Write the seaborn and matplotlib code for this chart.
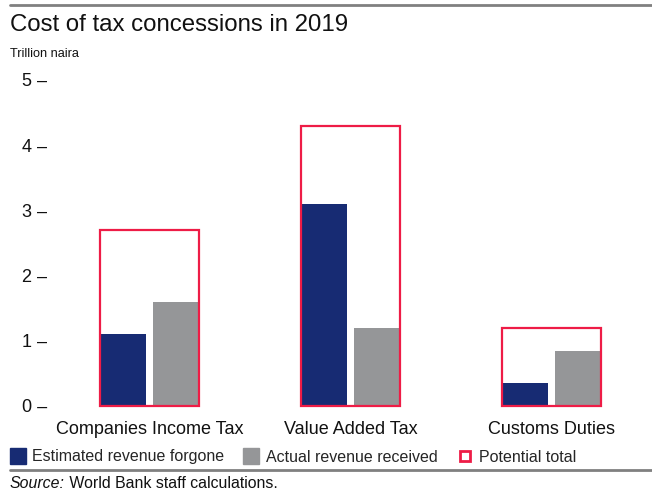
import matplotlib
matplotlib.use("Agg")
import matplotlib.pyplot as plt
from matplotlib.lines import Line2D
import seaborn as sns
import pandas as pd

# Values in trillion naira
categories = ["Companies Income Tax", "Value Added Tax", "Customs Duties"]
revenue_forgone = [1.1, 3.1, 0.35]
revenue_received = [1.6, 1.2, 0.84]
potential_total = [2.7, 4.3, 1.2]
series_names = ["Estimated revenue forgone", "Actual revenue received", "Potential total"]
y_ticks = [0, 1, 2, 3, 4, 5]

NAVY = "#172B73"
GREY = "#959698"
RED = "#EE1C46"
RULE = "#808080"

sns.set_theme(style="white")
plt.rcParams["font.family"] = ["Liberation Sans", "DejaVu Sans"]

W, H = 652, 491
fig = plt.figure(figsize=(W / 100, H / 100), dpi=100)
ax = fig.add_axes([49 / W, 85 / H, 1 - 49 / W, 326 / H])

bars = pd.DataFrame({
    "category": categories * 2,
    "value": revenue_forgone + revenue_received,
    "series": [series_names[0]] * 3 + [series_names[1]] * 3,
})

sns.barplot(data=bars, x="category", y="value", hue="series",
            order=categories, hue_order=series_names[:2],
            palette=[NAVY, GREY], width=0.49, gap=0,
            saturation=1, legend=False, ax=ax, linewidth=0)

# Open a small gap between each pair while keeping outer edges flush
n = len(categories)
for i, p in enumerate(ax.patches):
    w = p.get_width()
    if i >= n:
        p.set_x(p.get_x() + w * 0.07)
    p.set_width(w * 0.93)

sns.barplot(x=categories, y=potential_total, order=categories,
            fill=False, color=RED, saturation=1, width=0.49,
            linewidth=1.6, ax=ax)

for p in ax.patches:
    p.set_clip_on(False)

ax.set_xlim(-0.5, 2.5)
ax.set_ylim(0, 5)
ax.set_yticks(y_ticks)
ax.set_yticklabels([f"{v} \u2013" for v in y_ticks])
ax.tick_params(axis="y", length=0, pad=1, labelsize=13, colors="#111111")
ax.tick_params(axis="x", length=0, pad=11, labelsize=13, colors="#111111")
ax.set_xlabel("")
ax.set_ylabel("")
for s in ax.spines.values():
    s.set_visible(False)

# Header and footer text
fig.text(10 / W, 1 - 31 / H, "Cost of tax concessions in 2019",
         fontsize=17.3, color="#111111", va="baseline", ha="left")
fig.text(10 / W, 1 - 57 / H, "Trillion naira",
         fontsize=9.2, color="#111111", va="baseline", ha="left")

fig.add_artist(Line2D([10 / W, 1], [1 - 5 / H] * 2, color=RULE, lw=2))
fig.add_artist(Line2D([10 / W, 1], [1 - 470 / H] * 2, color=RULE, lw=2))

handles = [
    Line2D([], [], marker="s", linestyle="none", markersize=11,
           markerfacecolor=NAVY, markeredgecolor=NAVY, label=series_names[0]),
    Line2D([], [], marker="s", linestyle="none", markersize=11,
           markerfacecolor=GREY, markeredgecolor=GREY, label=series_names[1]),
    Line2D([], [], marker="s", linestyle="none", markersize=7,
           markerfacecolor="white", markeredgecolor=RED, markeredgewidth=2,
           label=series_names[2]),
]
fig.legend(handles=handles, loc="center left", bbox_to_anchor=(5 / W, 1 - 457 / H),
           ncol=3, frameon=False, fontsize=11.5, handlelength=0.8,
           handletextpad=0.5, columnspacing=1.3, borderaxespad=0)

src = fig.text(10 / W, 1 - 491 / H, "Source:", fontstyle="italic",
               fontsize=11.4, color="#111111", va="bottom", ha="left")
ax.annotate(" World Bank staff calculations.", xy=(1, 0), xycoords=src,
            fontsize=11.4, color="#111111", va="bottom", ha="left")

fig.savefig("out.png", dpi=100, facecolor="white")
